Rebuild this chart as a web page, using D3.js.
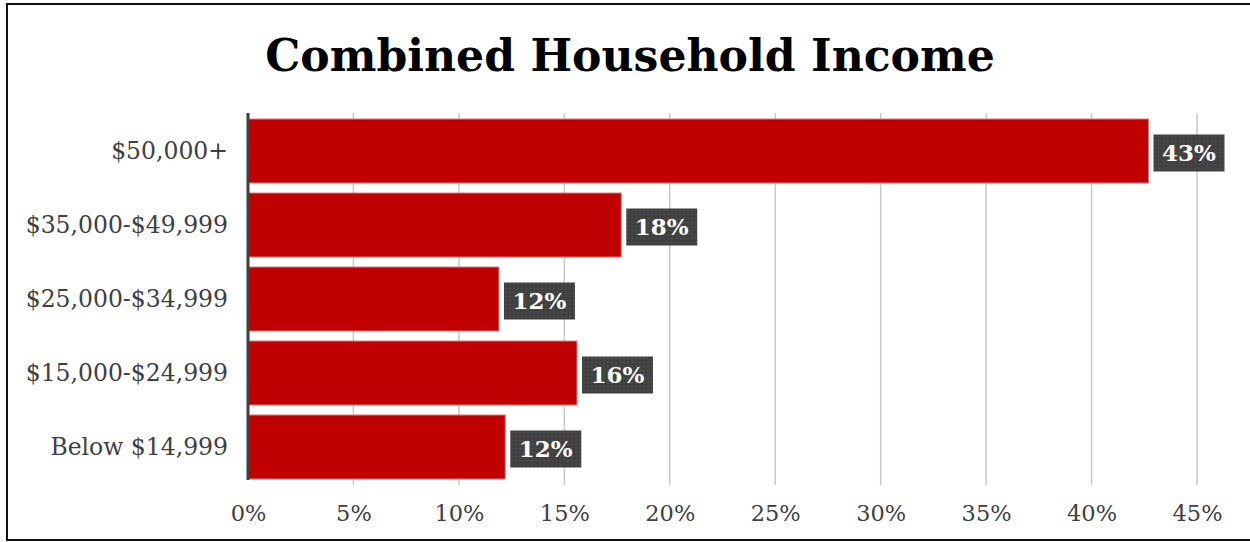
<!DOCTYPE html>
<html>
<head>
<meta charset="utf-8">
<script src="https://cdn.jsdelivr.net/npm/d3@7"></script>
<style>
  html, body { margin: 0; padding: 0; background: #fff; }
  svg { display: block; }
</style>
</head>
<body>
<svg id="chart" width="1250" height="542"></svg>
<script>
// Income brackets, top to bottom, and the share of households in each
const categories = ["$50,000+", "$35,000-$49,999", "$25,000-$34,999", "$15,000-$24,999", "Below $14,999"];
const shares = [0.427, 0.177, 0.119, 0.156, 0.122];
const tickValues = [0, 0.05, 0.10, 0.15, 0.20, 0.25, 0.30, 0.35, 0.40, 0.45];
const titleText = "Combined Household Income";

const svg = d3.select("#chart");
const serif = "'DejaVu Serif', 'Liberation Serif', serif";

// Outer frame
svg.append("rect")
  .attr("x", 7).attr("y", 4)
  .attr("width", 1260).attr("height", 536)
  .attr("fill", "#fff")
  .attr("stroke", "#111").attr("stroke-width", 2);

// Title, sized to span its block
const title = svg.append("text")
  .attr("x", 630).attr("y", 71)
  .attr("text-anchor", "middle")
  .attr("font-family", serif)
  .attr("font-weight", "bold")
  .attr("font-size", 46)
  .attr("fill", "#000")
  .text(titleText);
const tw = title.node().getComputedTextLength();
title.attr("font-size", 46 * 730 / tw);

// Scales
const x = d3.scaleLinear().domain([0, 0.45]).range([248, 1197]);
const y = d3.scaleBand().domain(categories).range([113, 485]).paddingInner(0.135).paddingOuter(0.081);

// Dotted texture for the value tags
const defs = svg.append("defs");
const pat = defs.append("pattern")
  .attr("id", "tagTexture")
  .attr("patternUnits", "userSpaceOnUse")
  .attr("width", 4).attr("height", 4);
pat.append("rect").attr("width", 4).attr("height", 4).attr("fill", "#3f3f3f");
pat.append("rect").attr("x", 1).attr("y", 1).attr("width", 2).attr("height", 2).attr("fill", "#4d4d4d");

// Vertical gridlines
svg.append("g")
  .selectAll("line")
  .data(tickValues.slice(1))
  .join("line")
  .attr("x1", d => x(d)).attr("x2", d => x(d))
  .attr("y1", 113).attr("y2", 485)
  .attr("stroke", "#c9c9c9")
  .attr("stroke-width", 1.5);

// Bars
svg.append("g")
  .selectAll("rect")
  .data(shares)
  .join("rect")
  .attr("x", x(0))
  .attr("y", (d, i) => y(categories[i]))
  .attr("width", d => x(d) - x(0))
  .attr("height", y.bandwidth())
  .attr("fill", "#c00000")
  .attr("stroke", "#e87c7c")
  .attr("stroke-width", 1);

// Category axis (left)
const yAxis = svg.append("g")
  .attr("transform", `translate(${x(0)},0)`)
  .call(d3.axisLeft(y).tickSize(0).tickPadding(20));
yAxis.select(".domain").remove();
svg.append("line")
  .attr("x1", x(0)).attr("x2", x(0))
  .attr("y1", 113).attr("y2", 480)
  .attr("stroke", "#404040").attr("stroke-width", 3);
yAxis.selectAll("text")
  .attr("font-family", serif)
  .attr("font-size", 23.5)
  .attr("fill", "#404040")
  .attr("dy", "0.35em");

// Value axis (bottom)
const xAxis = svg.append("g")
  .attr("transform", "translate(0,487)")
  .call(d3.axisBottom(x).tickValues(tickValues).tickFormat(d3.format(".0%")).tickSize(0).tickPadding(18));
xAxis.select(".domain").remove();
xAxis.selectAll("text")
  .attr("font-family", serif)
  .attr("font-size", 22.5)
  .attr("fill", "#404040");

// Value tags
const tagW = 71, tagH = 37;
const tags = svg.append("g")
  .selectAll("g")
  .data(shares)
  .join("g")
  .attr("transform", (d, i) => `translate(${x(d) + 5},${y(categories[i]) + y.bandwidth() / 2 + 2 - tagH / 2})`);
tags.append("rect")
  .attr("width", tagW).attr("height", tagH)
  .attr("fill", "url(#tagTexture)");
tags.append("text")
  .attr("x", tagW / 2).attr("y", tagH / 2)
  .attr("dy", "0.36em")
  .attr("text-anchor", "middle")
  .attr("font-family", serif)
  .attr("font-weight", "bold")
  .attr("font-size", 23)
  .attr("fill", "#fff")
  .text(d => d3.format(".0%")(Math.round(d * 100) / 100));
</script>
</body>
</html>
